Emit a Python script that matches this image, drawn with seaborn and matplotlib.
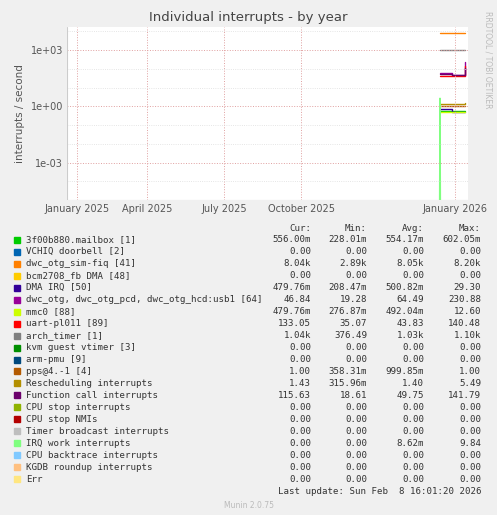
import matplotlib
matplotlib.use("Agg")
import matplotlib.pyplot as plt
import seaborn as sns
import pandas as pd
import numpy as np

names = ["3f00b880.mailbox [1]", "VCHIQ doorbell [2]", "dwc_otg_sim-fiq [41]", "bcm2708_fb DMA [48]",
         "DMA IRQ [50]", "dwc_otg, dwc_otg_pcd, dwc_otg_hcd:usb1 [64]", "mmc0 [88]", "uart-pl011 [89]",
         "arch_timer [1]", "kvm guest vtimer [3]", "arm-pmu [9]", "pps@4.-1 [4]", "Rescheduling interrupts",
         "Function call interrupts", "CPU stop interrupts", "CPU stop NMIs", "Timer broadcast interrupts",
         "IRQ work interrupts", "CPU backtrace interrupts", "KGDB roundup interrupts", "Err"]
colors = ["#00CC00", "#0066B3", "#FF8000", "#FFCC00", "#330099", "#990099", "#CCFF00", "#FF0000",
          "#808080", "#008F00", "#00487D", "#B35A00", "#B38F00", "#6B006B", "#8FB300", "#B30000",
          "#BEBEBE", "#80FF80", "#80C9FF", "#FFC080", "#FFE680"]
cur = ["556.00m", "0.00", "8.04k", "0.00", "479.76m", "46.84", "479.76m", "133.05", "1.04k", "0.00", "0.00",
       "1.00", "1.43", "115.63", "0.00", "0.00", "0.00", "0.00", "0.00", "0.00", "0.00"]
mn = ["228.01m", "0.00", "2.89k", "0.00", "208.47m", "19.28", "276.87m", "35.07", "376.49", "0.00", "0.00",
      "358.31m", "315.96m", "18.61", "0.00", "0.00", "0.00", "0.00", "0.00", "0.00", "0.00"]
avg = ["554.17m", "0.00", "8.05k", "0.00", "500.82m", "64.49", "492.04m", "43.83", "1.03k", "0.00", "0.00",
       "999.85m", "1.40", "49.75", "0.00", "0.00", "0.00", "8.62m", "0.00", "0.00", "0.00"]
mx = ["602.05m", "0.00", "8.20k", "0.00", "29.30", "230.88", "12.60", "140.48", "1.10k", "0.00", "0.00",
      "1.00", "5.49", "141.79", "0.00", "0.00", "0.00", "9.84", "0.00", "0.00", "0.00"]

# sample times (days on the axis) and values of the plotted series
days = [373, 385, 398]
series = {
    "3f00b880.mailbox [1]": [0.55, 0.56, 0.55],
    "dwc_otg_sim-fiq [41]": [8050, 8050, 8050],
    "DMA IRQ [50]": [0.7, 0.48, 0.48],
    "dwc_otg, dwc_otg_pcd, dwc_otg_hcd:usb1 [64]": [60, 48, 230],
    "mmc0 [88]": [0.5, 0.49, 0.48],
    "uart-pl011 [89]": [40, 40, 133],
    "arch_timer [1]": [1030, 1030, 1040],
    "pps@4.-1 [4]": [1.0, 1.0, 1.0],
    "Rescheduling interrupts": [1.4, 1.4, 1.43],
    "Function call interrupts": [50, 45, 116],
}
spike_days = [372.5, 373, 373.5]
spike_vals = [1e-6, 2.7, 1e-6]

ticks_days = [10, 80, 157, 234, 388]
ticks_labels = ["January 2025", "April 2025", "July 2025", "October 2025", "January 2026"]

sns.set_theme(style="white")
plt.rcParams["font.family"] = ["DejaVu Sans"]
fig = plt.figure(figsize=(4.97, 5.15), dpi=100, facecolor="#F0F0F0")
ax = fig.add_axes([67 / 497, 1 - 200 / 515, 401 / 497, 173 / 515])
ax.set_facecolor("white")

rows = []
for n, vals in series.items():
    for d, v in zip(days, vals):
        rows.append({"day": d, "value": v, "name": n})
df = pd.DataFrame(rows)
pal = {n: colors[names.index(n)] for n in series}
sns.lineplot(data=df, x="day", y="value", hue="name", palette=pal, legend=False, ax=ax, linewidth=1,
             drawstyle="steps-post")
ax.plot(spike_days, spike_vals, color="#80FF80", linewidth=1)

ax.set_yscale("log")
ax.set_xlim(0, 401)
ax.set_ylim(10 ** -5.0, 10 ** 4.23)
ax.set_yticks([1e3, 1, 1e-3])
ax.set_yticklabels(["1e+03", "1e+00", "1e-03"], fontsize=7, color="#555555")
ax.set_xticks(ticks_days)
ax.set_xticklabels(ticks_labels, fontsize=7, color="#555555")
ax.tick_params(length=0, pad=3)
ax.minorticks_off()
ax.set_xlabel("")
ax.set_ylabel("interrupts / second", fontsize=7.5, color="#555555")
for d in ticks_days:
    ax.axvline(d, color="#E0A0A0", linestyle=":", linewidth=0.7)
for y in [1e3, 1, 1e-3]:
    ax.axhline(y, color="#E0A0A0", linestyle=":", linewidth=0.7)
for y in [1e4, 1e2, 1e1, 1e-1, 1e-2, 1e-4]:
    ax.axhline(y, color="#DDDDDD", linestyle=":", linewidth=0.6)
for s in ax.spines.values():
    s.set_visible(False)
ax.axhline(10 ** -5.0, color="#CCCCCC", linewidth=0.8)
ax.axvline(0, color="#CCCCCC", linewidth=0.8)

fig.text(0.5, 1 - 18 / 515, "Individual interrupts - by year", ha="center", va="center", fontsize=9.5, color="#444444")
fig.text(488 / 497, 1 - 60 / 515, "RRDTOOL / TOBI OETIKER", rotation=270, ha="center", va="center",
         fontsize=5.5, color="#BBBBBB")

mono = "DejaVu Sans Mono"
y0 = 228
fs = 6.6
for xr, h in zip([311, 367, 424, 481], ["Cur:", "Min:", "Avg:", "Max:"]):
    fig.text(xr / 497, 1 - y0 / 515, h, ha="right", va="center", fontsize=fs, family=mono, color="#333333")
for i, n in enumerate(names):
    y = 1 - (y0 + 12 + i * 11.95) / 515
    fig.patches.append(plt.Rectangle((14 / 497, y - 3 / 515), 6 / 497, 6 / 515, transform=fig.transFigure,
                                     color=colors[i]))
    fig.text(26 / 497, y, n, va="center", fontsize=fs, family=mono, color="#333333")
    for xr, v in zip([311, 367, 424, 481], [cur[i], mn[i], avg[i], mx[i]]):
        fig.text(xr / 497, y, v, ha="right", va="center", fontsize=fs, family=mono, color="#333333")
fig.text(481 / 497, 1 - 491 / 515, "Last update: Sun Feb  8 16:01:20 2026", ha="right", va="center",
         fontsize=fs, family=mono, color="#333333")
fig.text(0.5, 1 - 505 / 515, "Munin 2.0.75", ha="center", va="center", fontsize=5.5, color="#BBBBBB")

fig.savefig("out.png", dpi=100, facecolor=fig.get_facecolor())
